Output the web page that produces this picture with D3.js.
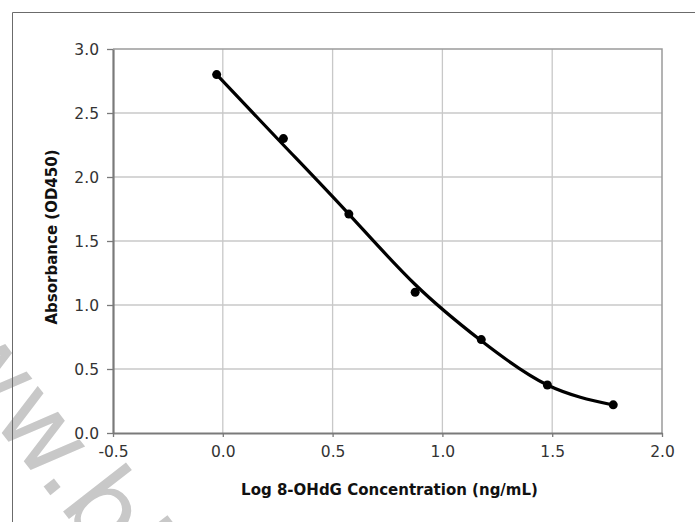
<!DOCTYPE html>
<html>
<head>
<meta charset="utf-8">
<script src="https://cdn.jsdelivr.net/npm/d3@7"></script>
<style>
  body { margin: 0; background: #fff; }
  svg { display: block; font-family: "DejaVu Sans", Verdana, sans-serif; }
</style>
</head>
<body>
<div id="chart"></div>
<script>
// standard points (log of concentration vs OD450)
const logConc = [-0.028, 0.276, 0.574, 0.876, 1.177, 1.478, 1.778];
const absorbance = [2.80, 2.30, 1.71, 1.10, 0.73, 0.375, 0.22];

// fitted curve
const fitX = [-0.028, 0.276, 0.574, 0.876, 1.177, 1.478, 1.778];
const fitY = [2.80, 2.25, 1.71, 1.16, 0.72, 0.375, 0.219];

const xTicks = [-0.5, 0.0, 0.5, 1.0, 1.5, 2.0];
const yTicks = [0.0, 0.5, 1.0, 1.5, 2.0, 2.5, 3.0];

const width = 695, height = 522;
const margin = { top: 49, right: 33, bottom: 89, left: 113 };

const svg = d3.select("#chart")
  .append("svg")
  .attr("width", width)
  .attr("height", height);

// watermark
svg.append("text")
  .attr("transform", "translate(-63,350) rotate(52)")
  .attr("font-size", 105)
  .attr("fill", "#c8c8c8")
  .text("ww.bio");

// outer frame
svg.append("path")
  .attr("d", "M12.5," + height + "V12.5H" + width)
  .attr("fill", "none")
  .attr("stroke", "#6b6b6b")
  .attr("stroke-width", 1);

const x = d3.scaleLinear()
  .domain([-0.5, 2.0])
  .range([margin.left, width - margin.right]);

const y = d3.scaleLinear()
  .domain([0, 3.0])
  .range([height - margin.bottom, margin.top]);

const fmt = d => d.toFixed(1);

// grid
svg.append("g")
  .selectAll("line")
  .data(xTicks.slice(1, -1))
  .join("line")
  .attr("x1", d => x(d))
  .attr("x2", d => x(d))
  .attr("y1", y(0))
  .attr("y2", y(3))
  .attr("stroke", "#c8c8c8")
  .attr("stroke-width", 1.3);

svg.append("g")
  .selectAll("line")
  .data(yTicks.slice(1, -1))
  .join("line")
  .attr("x1", x(-0.5))
  .attr("x2", x(2.0))
  .attr("y1", d => y(d))
  .attr("y2", d => y(d))
  .attr("stroke", "#c8c8c8")
  .attr("stroke-width", 1.3);

// top and right border of plot
svg.append("path")
  .attr("d", "M" + x(-0.5) + "," + y(3) + "H" + x(2.0) + "V" + y(0))
  .attr("fill", "none")
  .attr("stroke", "#9a9a9a")
  .attr("stroke-width", 1.5);

// axes
const xAxis = svg.append("g")
  .attr("transform", "translate(0," + y(0) + ")")
  .call(d3.axisBottom(x).tickValues(xTicks).tickFormat(fmt)
    .tickSizeInner(4).tickSizeOuter(0).tickPadding(9));

const yAxis = svg.append("g")
  .attr("transform", "translate(" + x(-0.5) + ",0)")
  .call(d3.axisLeft(y).tickValues(yTicks).tickFormat(fmt)
    .tickSizeInner(6).tickSizeOuter(0).tickPadding(8));

[xAxis, yAxis].forEach(function (a) {
  a.select(".domain").attr("stroke", "#7a7a7a").attr("stroke-width", 2.2);
  a.selectAll(".tick line").attr("stroke", "#7a7a7a").attr("stroke-width", 1.3);
  a.selectAll(".tick text")
    .attr("font-size", 15.5)
    .attr("fill", "#333")
    .attr("font-family", "DejaVu Sans, Verdana, sans-serif");
});
xAxis.selectAll(".tick text").attr("dy", "0.71em");
yAxis.selectAll(".tick text").attr("dy", "0.36em");

// fitted curve
const fitData = fitX.map((v, i) => [v, fitY[i]]);
svg.append("path")
  .datum(fitData)
  .attr("d", d3.line()
    .x(d => x(d[0]))
    .y(d => y(d[1]))
    .curve(d3.curveNatural))
  .attr("fill", "none")
  .attr("stroke", "#000")
  .attr("stroke-width", 3.2);

// points
svg.append("g")
  .selectAll("circle")
  .data(logConc)
  .join("circle")
  .attr("cx", d => x(d))
  .attr("cy", (d, i) => y(absorbance[i]))
  .attr("r", 4.5)
  .attr("fill", "#000");

// axis titles
svg.append("text")
  .attr("x", (x(-0.5) + x(2.0)) / 2 + 2)
  .attr("y", 495)
  .attr("text-anchor", "middle")
  .attr("font-size", 15)
  .attr("font-weight", "bold")
  .attr("fill", "#111")
  .text("Log 8-OHdG Concentration (ng/mL)");

svg.append("text")
  .attr("transform", "translate(57," + 237 + ") rotate(-90)")
  .attr("text-anchor", "middle")
  .attr("font-size", 15)
  .attr("font-weight", "bold")
  .attr("fill", "#111")
  .text("Absorbance (OD450)");
</script>
</body>
</html>
